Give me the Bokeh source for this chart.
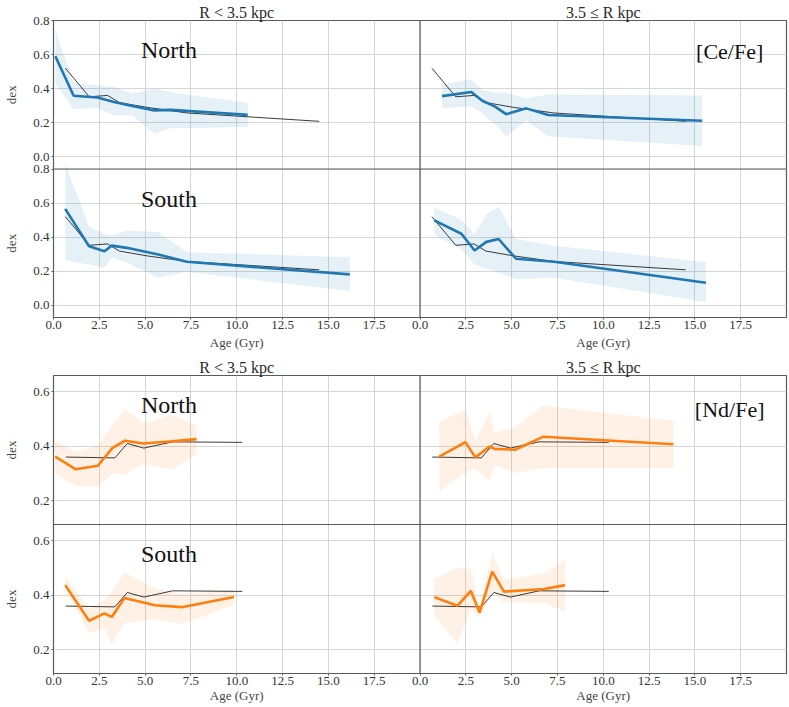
import math
from bokeh.plotting import figure
from bokeh.models import Range1d, FixedTicker, Span, LinearAxis, Label
from bokeh.layouts import column
from bokeh.embed import file_html
from bokeh.resources import INLINE

# ---------------- data ----------------
age_ticks = [0.0, 2.5, 5.0, 7.5, 10.0, 12.5, 15.0, 17.5]
age_tick_labels = ["0.0", "2.5", "5.0", "7.5", "10.0", "12.5", "15.0", "17.5"]
ce_ticks = [0.0, 0.2, 0.4, 0.6, 0.8]
ce_tick_labels = ["0.0", "0.2", "0.4", "0.6", "0.8"]
nd_ticks = [0.2, 0.4, 0.6]
nd_tick_labels = ["0.2", "0.4", "0.6"]
col_titles = ["R < 3.5 kpc", "3.5 \u2264 R kpc"]
region_names = ["North", "South"]
x_title = "Age (Gyr)"
y_title = "dex"

# thin black reference trends (same in every panel of an element)
ce_ref_age = [0.65, 1.95, 2.95, 3.6, 5.1, 7.3, 14.5]
ce_ref_val = [0.52, 0.352, 0.36, 0.318, 0.29, 0.257, 0.208]
nd_ref_age = [0.67, 3.35, 4.03, 4.93, 6.5, 10.3]
nd_ref_val = [0.36, 0.357, 0.41, 0.393, 0.416, 0.414]

# [Ce/Fe]
ce_n_in_age = [0.1, 1.1, 2.4, 3.3, 4.3, 5.5, 6.4, 10.6]
ce_n_in_val = [0.59, 0.358, 0.348, 0.322, 0.298, 0.272, 0.275, 0.246]
ce_n_in_hi = [0.745, 0.43, 0.42, 0.41, 0.37, 0.40, 0.378, 0.315]
ce_n_in_lo = [0.43, 0.28, 0.286, 0.243, 0.24, 0.135, 0.168, 0.174]

ce_n_out_age = [1.2, 2.8, 3.4, 4.1, 4.7, 5.8, 7.0, 15.4]
ce_n_out_val = [0.356, 0.38, 0.329, 0.294, 0.25, 0.284, 0.245, 0.211]
ce_n_out_hi = [0.425, 0.454, 0.39, 0.377, 0.376, 0.342, 0.366, 0.36]
ce_n_out_lo = [0.284, 0.297, 0.254, 0.19, 0.121, 0.211, 0.121, 0.063]

ce_s_in_age = [0.64, 1.94, 2.78, 3.18, 4.0, 5.72, 7.27, 16.17]
ce_s_in_val = [0.566, 0.346, 0.317, 0.35, 0.337, 0.298, 0.255, 0.181]
ce_s_in_hi = [0.83, 0.463, 0.418, 0.409, 0.438, 0.43, 0.311, 0.282]
ce_s_in_lo = [0.263, 0.239, 0.22, 0.282, 0.249, 0.162, 0.197, 0.084]

ce_s_out_age = [0.78, 2.26, 2.98, 3.62, 4.29, 5.24, 7.32, 15.6]
ce_s_out_val = [0.498, 0.42, 0.321, 0.372, 0.389, 0.273, 0.255, 0.132]
ce_s_out_hi = [0.574, 0.502, 0.415, 0.531, 0.58, 0.389, 0.35, 0.253]
ce_s_out_lo = [0.415, 0.327, 0.239, 0.214, 0.191, 0.152, 0.162, 0.019]

# [Nd/Fe]
nd_n_in_age = [0.09, 1.22, 2.42, 3.22, 3.9, 4.9, 6.45, 7.81]
nd_n_in_val = [0.362, 0.315, 0.328, 0.394, 0.42, 0.41, 0.418, 0.426]
nd_n_in_hi = [0.42, 0.378, 0.402, 0.479, 0.539, 0.484, 0.515, 0.476]
nd_n_in_lo = [0.30, 0.254, 0.25, 0.30, 0.296, 0.335, 0.313, 0.372]

nd_n_out_age = [1.05, 2.48, 3.02, 3.8, 4.07, 5.19, 6.74, 13.83]
nd_n_out_val = [0.362, 0.415, 0.359, 0.399, 0.39, 0.387, 0.435, 0.407]
nd_n_out_hi = [0.49, 0.534, 0.421, 0.527, 0.45, 0.47, 0.549, 0.494]
nd_n_out_lo = [0.235, 0.301, 0.317, 0.272, 0.33, 0.301, 0.321, 0.321]

nd_s_in_age = [0.64, 1.94, 2.78, 3.18, 3.87, 5.54, 7.0, 9.85]
nd_s_in_val = [0.437, 0.306, 0.333, 0.32, 0.39, 0.363, 0.356, 0.393]
nd_s_in_hi = [0.471, 0.349, 0.383, 0.41, 0.484, 0.426, 0.405, 0.418]
nd_s_in_lo = [0.42, 0.26, 0.28, 0.221, 0.295, 0.312, 0.294, 0.365]

nd_s_out_age = [0.78, 2.04, 2.77, 3.25, 3.94, 4.58, 6.78, 7.92]
nd_s_out_val = [0.393, 0.361, 0.416, 0.336, 0.487, 0.413, 0.423, 0.437]
nd_s_out_hi = [0.459, 0.502, 0.495, 0.356, 0.557, 0.456, 0.481, 0.532]
nd_s_out_lo = [0.325, 0.221, 0.349, 0.32, 0.411, 0.373, 0.371, 0.34]

# ---------------- style ----------------
FONT = "Liberation Serif"
BLUE = "#1f77b4"
ORANGE = "#ff7f0e"
FRAME = "#5a5a5a"
GRID = "#d6d6d6"
W = 788
ML, MR = 52, 2
X_SPAN = 40.0

x_ticks_all = age_ticks + [t + 20.0 for t in age_ticks]
x_overrides = {}
for t, lab in zip(age_ticks, age_tick_labels):
    x_overrides[t] = lab
    x_overrides[t + 20.0] = lab
col_centres = [10.0, 30.0]


def text_axis(ax, size, standoff, color):
    ax.axis_line_color = None
    ax.major_tick_line_color = None
    ax.minor_tick_line_color = None
    ax.major_tick_in = 0
    ax.major_tick_out = 0
    ax.minor_tick_in = 0
    ax.minor_tick_out = 0
    ax.major_label_standoff = standoff
    ax.major_label_text_font = FONT
    ax.major_label_text_font_size = size
    ax.major_label_text_color = color


def make_group(nr, yticks, ylabels, top, frame_h, bottom, age_standoff, color,
               ref_age, ref_val, panels, name_y, tag, tag_y):
    n0, n1 = nr
    span = n1 - n0
    p = figure(width=W, height=top + frame_h + bottom,
               x_range=Range1d(0, X_SPAN), y_range=Range1d(n0 - span, n1),
               output_backend="svg", toolbar_location=None,
               min_border_left=ML, min_border_right=MR, min_border_top=top,
               min_border_bottom=bottom)
    # right-hand column and lower (South) row use their own scales
    p.extra_x_ranges = {"right": Range1d(-20, 20)}
    p.extra_y_ranges = {"south": Range1d(n0, n1 + span)}
    p.background_fill_color = "white"
    p.border_fill_color = "white"
    p.outline_line_color = FRAME
    p.outline_line_width = 1.2

    y_pos = list(yticks) + [t - span for t in yticks]
    y_over = {}
    for t, lab in zip(yticks, ylabels):
        y_over[t] = lab
        y_over[t - span] = lab

    p.xgrid.ticker = FixedTicker(ticks=x_ticks_all)
    p.ygrid.ticker = FixedTicker(ticks=y_pos)
    p.grid.grid_line_color = GRID
    p.grid.grid_line_width = 1

    for ax in p.yaxis:
        ax.ticker = FixedTicker(ticks=y_pos)
        ax.major_label_overrides = y_over
    for ax in p.xaxis:
        ax.ticker = FixedTicker(ticks=x_ticks_all)
        ax.major_label_overrides = x_overrides
    for ax in list(p.xaxis) + list(p.yaxis):
        ax.axis_line_color = None
        ax.major_tick_in = 0
        ax.major_tick_out = 2
        ax.minor_tick_out = 0
        ax.minor_tick_in = 0
        ax.major_tick_line_color = FRAME
        ax.major_label_text_font = FONT
        ax.major_label_text_font_size = "13px"
        ax.major_label_text_color = "#333333"
        ax.major_label_standoff = 2
    for ax in p.xaxis:
        ax.major_label_standoff = 1

    # column titles (above), x titles (below), y titles (left)
    t_ax = LinearAxis(ticker=FixedTicker(ticks=col_centres),
                      major_label_overrides={c: t for c, t in zip(col_centres, col_titles)})
    text_axis(t_ax, "16px", 0, "#2a2a2a")
    p.add_layout(t_ax, "above")

    a_ax = LinearAxis(ticker=FixedTicker(ticks=col_centres),
                      major_label_overrides={c: x_title for c in col_centres})
    text_axis(a_ax, "13px", age_standoff, "#444444")
    p.add_layout(a_ax, "below")

    mids = [(n0 + n1) / 2, (n0 + n1) / 2 - span]
    d_ax = LinearAxis(ticker=FixedTicker(ticks=mids),
                      major_label_overrides={m: y_title for m in mids},
                      major_label_orientation="parallel")
    text_axis(d_ax, "13px", 12, "#444444")
    p.add_layout(d_ax, "left")

    for (rx, ry), (age, val, hi, lo) in panels:
        p.varea(x=age, y1=lo, y2=hi, fill_color=color, fill_alpha=0.11,
                x_range_name=rx, y_range_name=ry)
        p.line(ref_age, ref_val, line_color="#1a1a1a", line_width=1, line_alpha=0.85,
               x_range_name=rx, y_range_name=ry)
        p.line(age, val, line_color=color, line_width=2.6, x_range_name=rx, y_range_name=ry)

    p.add_layout(Span(location=20, dimension="height", line_color=FRAME, line_width=1.2))
    p.add_layout(Span(location=n0, dimension="width", line_color=FRAME, line_width=1.2))

    for ry, nm in (("default", region_names[0]), ("south", region_names[1])):
        p.add_layout(Label(x=6.3, y=name_y, y_range_name=ry, text=nm, text_align="center",
                           text_baseline="middle", text_font=FONT, text_font_size="24px",
                           text_color="#111111"))
    p.add_layout(Label(x=16.9, y=tag_y, x_range_name="right", text=tag,
                       text_align="center", text_baseline="middle", text_font=FONT,
                       text_font_size="22px", text_color="#111111"))
    return p


pA = make_group((-0.072, 0.80), ce_ticks, ce_tick_labels, 18, 299, 35, 3, BLUE,
                ce_ref_age, ce_ref_val,
                [(("default", "default"), (ce_n_in_age, ce_n_in_val, ce_n_in_hi, ce_n_in_lo)),
                 (("right", "default"), (ce_n_out_age, ce_n_out_val, ce_n_out_hi, ce_n_out_lo)),
                 (("default", "south"), (ce_s_in_age, ce_s_in_val, ce_s_in_hi, ce_s_in_lo)),
                 (("right", "south"), (ce_s_out_age, ce_s_out_val, ce_s_out_hi, ce_s_out_lo))],
                0.625, "[Ce/Fe]", 0.62)
pB = make_group((0.112, 0.66), nd_ticks, nd_tick_labels, 23, 298, 32, 0, ORANGE,
                nd_ref_age, nd_ref_val,
                [(("default", "default"), (nd_n_in_age, nd_n_in_val, nd_n_in_hi, nd_n_in_lo)),
                 (("right", "default"), (nd_n_out_age, nd_n_out_val, nd_n_out_hi, nd_n_out_lo)),
                 (("default", "south"), (nd_s_in_age, nd_s_in_val, nd_s_in_hi, nd_s_in_lo)),
                 (("right", "south"), (nd_s_out_age, nd_s_out_val, nd_s_out_hi, nd_s_out_lo))],
                0.55, "[Nd/Fe]", 0.535)

layout = column(pA, pB)
open("out.html", "w").write(file_html(layout, INLINE))
